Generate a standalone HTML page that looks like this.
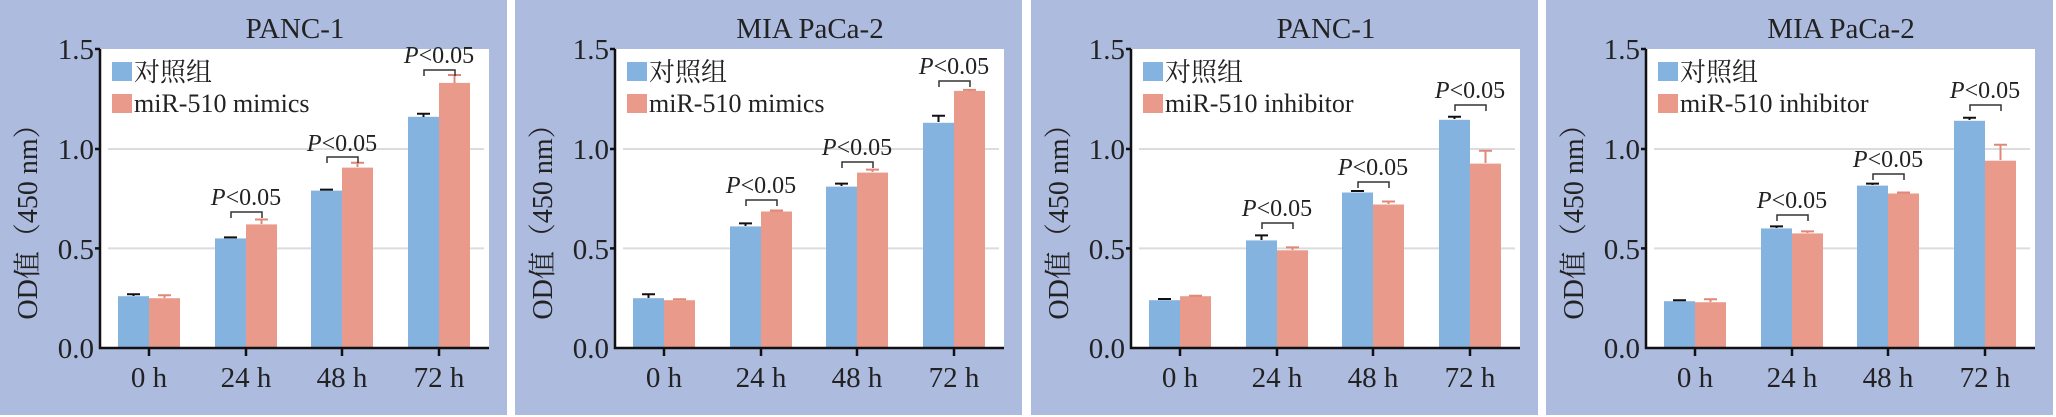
<!DOCTYPE html>
<html><head><meta charset="utf-8"><style>
html,body{margin:0;padding:0;background:#fff;}
svg{display:block;}
text{font-family:"Liberation Serif","Noto Serif CJK SC",serif;fill:#222;}
.b{fill:#85b3df;}.r{fill:#e99a8a;}
.eb{stroke:#111;stroke-width:2;fill:none;}
.er{stroke:#e08878;stroke-width:2;fill:none;}
.ax{stroke:#111;stroke-width:2.5;fill:none;}
.gr{stroke:#dcdcdc;stroke-width:2;}
.br{stroke:#333;stroke-width:1.5;fill:none;}
.yt{font-size:29px;text-anchor:end;}
.xt{font-size:29px;text-anchor:middle;}
.p{font-size:24px;text-anchor:middle;}
.p tspan{font-style:italic;}
.lg{font-size:26px;}
.tt{font-size:29px;text-anchor:middle;}
</style></head><body>
<svg width="2056" height="417" viewBox="0 0 2056 417" xmlns="http://www.w3.org/2000/svg">
<rect width="2056" height="417" fill="#fff"/>
<defs>
<g id="frame">
<rect x="0" y="0" width="507" height="415" fill="#adbbdf"/>
<rect x="100" y="49" width="389" height="299" fill="#fff"/>
<line class="gr" x1="108" y1="248.4" x2="484" y2="248.4"/>
<line class="gr" x1="108" y1="149" x2="484" y2="149"/>
<text class="yt" x="94" y="358">0.0</text>
<text class="yt" x="94" y="259">0.5</text>
<text class="yt" x="94" y="159">1.0</text>
<text class="yt" x="94" y="59">1.5</text>
<text class="xt" x="149" y="387">0 h</text>
<text class="xt" x="246" y="387">24 h</text>
<text class="xt" x="342" y="387">48 h</text>
<text class="xt" x="439" y="387">72 h</text>
<text transform="translate(37,215) rotate(-90)" text-anchor="middle" style="font-size:28px">OD值（450 nm）</text>
<rect class="b" x="112" y="62" width="20" height="19"/>
<text class="lg" x="134" y="81">对照组</text>
<rect class="r" x="112" y="94" width="20" height="19"/>
</g>
<g id="axes">
<path class="ax" d="M100,49 V348 H489"/>
<path class="ax" d="M95,49H100M95,248.4H100M95,149H100M149,348v8M246,348v8M342,348v8M439,348v8"/>
</g>
</defs>

<!-- Panel 1 -->
<g transform="translate(0,0)">
<use href="#frame"/>
<text class="tt" x="295" y="38">PANC-1</text>
<text class="lg" x="134" y="112">miR-510 mimics</text>
<rect class="b" x="118" y="296.2" width="31" height="51.8"/><rect class="r" x="149" y="298.2" width="31" height="49.8"/>
<rect class="b" x="215" y="238.4" width="31" height="109.6"/><rect class="r" x="246" y="224.4" width="31" height="123.6"/>
<rect class="b" x="311" y="190.6" width="31" height="157.4"/><rect class="r" x="342" y="167.6" width="31" height="180.4"/>
<rect class="b" x="408" y="116.8" width="31" height="231.2"/><rect class="r" x="439" y="82.9" width="31" height="265.1"/>
<path class="eb" d="M133.5,296V294.2M127,294.2H140 M230.5,238V237.4M224,237.4H237 M326.5,190V189.6M320,189.6H333 M423.5,117V113.8M417,113.8H430"/>
<path class="er" d="M164.5,298V295.2M158,295.2H171 M261.5,224V219.5M255,219.5H268 M357.5,167V162.7M351,162.7H364 M454.5,83V75M448,75H461"/>
<path class="br" d="M231,218V212H262V218 M327,163V157H358V163 M424,76V70H455V76"/>
<text class="p" x="246" y="205"><tspan>P</tspan>&lt;0.05</text>
<text class="p" x="342" y="151"><tspan>P</tspan>&lt;0.05</text>
<text class="p" x="439" y="63"><tspan>P</tspan>&lt;0.05</text>
<use href="#axes"/>
</g>

<!-- Panel 2 -->
<g transform="translate(515,0)">
<use href="#frame"/>
<text class="tt" x="295" y="38">MIA PaCa-2</text>
<text class="lg" x="134" y="112">miR-510 mimics</text>
<rect class="b" x="118" y="298.2" width="31" height="49.8"/><rect class="r" x="149" y="300.2" width="31" height="47.8"/>
<rect class="b" x="215" y="226.4" width="31" height="121.6"/><rect class="r" x="246" y="211.5" width="31" height="136.5"/>
<rect class="b" x="311" y="186.6" width="31" height="161.4"/><rect class="r" x="342" y="172.6" width="31" height="175.4"/>
<rect class="b" x="408" y="122.8" width="31" height="225.2"/><rect class="r" x="439" y="90.9" width="31" height="257.1"/>
<path class="eb" d="M133.5,298V294.2M127,294.2H140 M230.5,226V223.4M224,223.4H237 M326.5,186V183.6M320,183.6H333 M423.5,122V115.8M417,115.8H430"/>
<path class="er" d="M164.5,300V299.2M158,299.2H171 M261.5,211V210.5M255,210.5H268 M357.5,172V169.6M351,169.6H364 M454.5,91V89.9M448,89.9H461"/>
<path class="br" d="M231,206V200H262V206 M327,168V162H358V168 M424,87V81H455V87"/>
<text class="p" x="246" y="193"><tspan>P</tspan>&lt;0.05</text>
<text class="p" x="342" y="155"><tspan>P</tspan>&lt;0.05</text>
<text class="p" x="439" y="74"><tspan>P</tspan>&lt;0.05</text>
<use href="#axes"/>
</g>

<!-- Panel 3 -->
<g transform="translate(1031,0)">
<use href="#frame"/>
<text class="tt" x="295" y="38">PANC-1</text>
<text class="lg" x="134" y="112">miR-510 inhibitor</text>
<rect class="b" x="118" y="300.2" width="31" height="47.8"/><rect class="r" x="149" y="296.2" width="31" height="51.8"/>
<rect class="b" x="215" y="240.4" width="31" height="107.6"/><rect class="r" x="246" y="250.3" width="31" height="97.7"/>
<rect class="b" x="311" y="192.5" width="31" height="155.5"/><rect class="r" x="342" y="204.5" width="31" height="143.5"/>
<rect class="b" x="408" y="119.8" width="31" height="228.2"/><rect class="r" x="439" y="163.6" width="31" height="184.4"/>
<path class="eb" d="M133.5,300V299M127,299H140 M230.5,240V235.4M224,235.4H237 M326.5,192V191M320,191H333 M423.5,119V116.8M417,116.8H430"/>
<path class="er" d="M164.5,296V295.8M158,295.8H171 M261.5,250V247.4M255,247.4H268 M357.5,204V201.5M351,201.5H364 M454.5,163V150.7M448,150.7H461"/>
<path class="br" d="M231,229V223H262V229 M327,188V182H358V188 M424,111V105H455V111"/>
<text class="p" x="246" y="216"><tspan>P</tspan>&lt;0.05</text>
<text class="p" x="342" y="175"><tspan>P</tspan>&lt;0.05</text>
<text class="p" x="439" y="98"><tspan>P</tspan>&lt;0.05</text>
<use href="#axes"/>
</g>

<!-- Panel 4 -->
<g transform="translate(1546,0)">
<use href="#frame"/>
<text class="tt" x="295" y="38">MIA PaCa-2</text>
<text class="lg" x="134" y="112">miR-510 inhibitor</text>
<rect class="b" x="118" y="301.2" width="31" height="46.8"/><rect class="r" x="149" y="302.2" width="31" height="45.8"/>
<rect class="b" x="215" y="228.4" width="31" height="119.6"/><rect class="r" x="246" y="233.4" width="31" height="114.6"/>
<rect class="b" x="311" y="185.6" width="31" height="162.4"/><rect class="r" x="342" y="193.5" width="31" height="154.5"/>
<rect class="b" x="408" y="120.8" width="31" height="227.2"/><rect class="r" x="439" y="160.7" width="31" height="187.3"/>
<path class="eb" d="M133.5,301V300.2M127,300.2H140 M230.5,228V226.4M224,226.4H237 M326.5,185V183.6M320,183.6H333 M423.5,120V117.8M417,117.8H430"/>
<path class="er" d="M164.5,302V299.2M158,299.2H171 M261.5,233V231.4M255,231.4H268 M357.5,193V192.5M351,192.5H364 M454.5,160V144.7M448,144.7H461"/>
<path class="br" d="M231,221V215H262V221 M327,180V174H358V180 M424,111V105H455V111"/>
<text class="p" x="246" y="208"><tspan>P</tspan>&lt;0.05</text>
<text class="p" x="342" y="167"><tspan>P</tspan>&lt;0.05</text>
<text class="p" x="439" y="98"><tspan>P</tspan>&lt;0.05</text>
<use href="#axes"/>
</g>
</svg>
</body></html>
